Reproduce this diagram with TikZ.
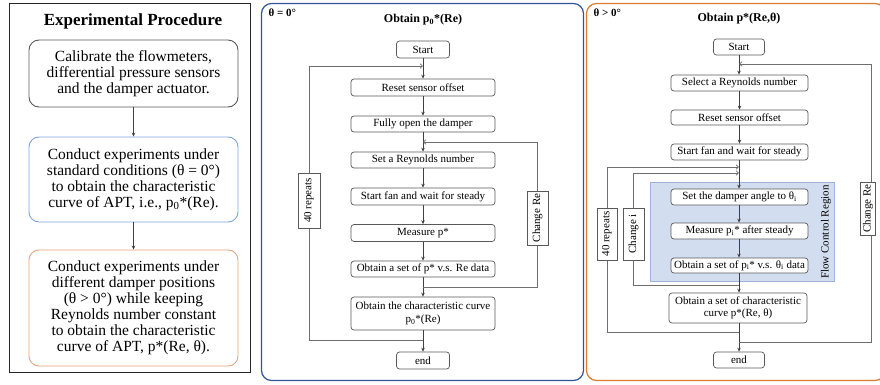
\documentclass[tikz,border=0pt]{standalone}
\usepackage{fontspec}
\setmainfont{Liberation Serif}
\usetikzlibrary{arrows.meta}
\definecolor{midblue}{HTML}{2F5597}
\definecolor{rorange}{HTML}{E07A2E}
\definecolor{lblue}{HTML}{7FA3E0}
\definecolor{lorange}{HTML}{E8A57A}
\definecolor{boxgray}{HTML}{595959}
\definecolor{linegray}{HTML}{404040}
\definecolor{loopgray}{HTML}{6E6E6E}
\definecolor{fcrfill}{HTML}{D3DDF0}
\definecolor{fcrdraw}{HTML}{9DB3DE}
\begin{document}
\begin{tikzpicture}[x=1pt,y=-1pt,
  fbox/.style={draw=boxgray, rounded corners=3pt, line width=0.7pt, fill=white,
    font=\fontsize{11}{12.5}\selectfont, inner sep=0pt, align=center},
  lbl/.style={draw=boxgray, line width=0.7pt, fill=white, rotate=90,
    font=\fontsize{11}{12}\selectfont, inner sep=0pt},
  bigbox/.style={rounded corners=10pt, line width=0.9pt, fill=white, inner sep=0pt,
    align=center, font=\fontsize{15.5}{16}\selectfont, minimum width=209pt},
  flow/.style={draw=linegray, line width=0.7pt, -{Stealth[length=4pt,width=3.5pt]}},
  loop/.style={draw=loopgray, line width=0.7pt, -{Straight Barb[length=2.5pt,width=4.5pt]}},
  loopl/.style={draw=loopgray, line width=0.7pt},
  frame/.style={rounded corners=10pt, line width=1.2pt}
]
\useasboundingbox (0,0) rectangle (880,385);

% ---------------- Left panel ----------------
\draw[line width=0.8pt, draw=black!85] (9,3) rectangle (250,372);
\node[font=\fontsize{17}{18}\selectfont\bfseries] (ltitle) at (133,21) {Experimental Procedure};
\node[bigbox, draw=boxgray, minimum height=67pt] (b1) at (133.5,73.5)
  {Calibrate the flowmeters,\\differential pressure sensors\\and the damper actuator.};
\node[bigbox, draw=lblue, minimum height=85pt] (b2) at (133.5,179.5)
  {Conduct experiments under\\standard conditions (θ = 0°)\\to obtain the characteristic\\curve of APT, i.e., p\textsubscript{0}*(Re).};
\node[bigbox, draw=lorange, minimum height=116pt] (b3) at (133.5,308)
  {Conduct experiments under\\different damper positions\\(θ > 0°) while keeping\\Reynolds number constant\\to obtain the characteristic\\curve of APT, p*(Re, θ).};
\draw[flow] (b1) -- (b2);
\draw[flow] (b2) -- (b3);

% ---------------- Middle panel ----------------
\draw[frame, draw=midblue] (261.5,3.5) rectangle (583.5,380.5);
\node[anchor=west, font=\fontsize{11}{12}\selectfont\bfseries] (mlab) at (265,13) {θ = 0°};
\node[font=\fontsize{12}{13}\selectfont\bfseries] (mtitle) at (423,20) {Obtain p\textsubscript{0}*(Re)};

\node[fbox, minimum width=53pt, minimum height=17pt] (mstart) at (423,49.5) {Start};
\node[fbox, minimum width=144pt, minimum height=17pt] (mreset) at (423,87.5) {Reset sensor offset};
\node[fbox, minimum width=144pt, minimum height=16pt] (mopen) at (423,124) {Fully open the damper};
\node[fbox, minimum width=144pt, minimum height=16pt] (mset) at (423,160) {Set a Reynolds number};
\node[fbox, minimum width=144pt, minimum height=17pt] (mfan) at (423,196.5) {Start fan and wait for steady};
\node[fbox, minimum width=144pt, minimum height=17pt] (mmeas) at (423,233) {Measure p*};
\node[fbox, minimum width=144pt, minimum height=16pt] (mdata) at (423,269) {Obtain a set of p* v.s. Re data};
\node[fbox, minimum width=144pt, minimum height=33pt] (mcurve) at (423,313.5) {Obtain the characteristic curve\\p\textsubscript{0}*(Re)};
\node[fbox, minimum width=53pt, minimum height=17pt] (mend) at (423,360.5) {end};

\draw[flow] (mstart) -- (mreset);
\draw[flow] (mreset) -- (mopen);
\draw[flow] (mopen) -- (mset);
\draw[flow] (mset) -- (mfan);
\draw[flow] (mfan) -- (mmeas);
\draw[flow] (mmeas) -- (mdata);
\draw[flow] (mdata) -- (mcurve);
\draw[flow] (mcurve) -- (mend);

\coordinate (mj1) at (423,340);
\coordinate (mj1a) at (309,340);
\coordinate (mj1b) at (309,66);
\coordinate (mj1c) at (423,66);
\draw[loop] (mj1) -- (mj1a) -- (mj1b) -- (mj1c);
\node[lbl, minimum width=55pt, minimum height=22pt] (mrep) at (309,200.5) {40 repeats};

\coordinate (mj2) at (423,287);
\coordinate (mj2a) at (537,287);
\coordinate (mj2b) at (537,142);
\coordinate (mj2c) at (423,142);
\draw[loop] (mj2) -- (mj2a) -- (mj2b) -- (mj2c);
\node[lbl, minimum width=54pt, minimum height=21pt] (mchg) at (537.5,218) {Change Re};

% ---------------- Right panel ----------------
\draw[frame, draw=rorange] (586.5,3.5) rectangle (885,380.5);
\node[anchor=west, font=\fontsize{11}{12}\selectfont\bfseries] (rlab) at (590,13) {θ > 0°};
\node[font=\fontsize{12}{13}\selectfont\bfseries] (rtitle) at (739,19) {Obtain p*(Re,θ)};

\draw[fill=fcrfill, draw=fcrdraw, line width=0.8pt] (650,182) rectangle (834,281);
\node[rotate=90, font=\fontsize{11}{12}\selectfont] (fcr) at (826,232) {Flow Control Region};

\node[fbox, minimum width=51pt, minimum height=16pt] (rstart) at (739,47) {Start};
\node[fbox, minimum width=137pt, minimum height=16pt] (rsel) at (739.5,83) {Select a Reynolds number};
\node[fbox, minimum width=137pt, minimum height=15pt] (rreset) at (739.5,117.5) {Reset sensor offset};
\node[fbox, minimum width=137pt, minimum height=16pt] (rfan) at (739.5,152) {Start fan and wait for steady};
\node[fbox, minimum width=137pt, minimum height=16pt] (rang) at (739.5,197) {Set the damper angle to θ\textsubscript{i}};
\node[fbox, minimum width=137pt, minimum height=16pt] (rmeas) at (739.5,231) {Measure p\textsubscript{i}* after steady};
\node[fbox, minimum width=137pt, minimum height=15pt] (rdata) at (739.5,265.5) {Obtain a set of p\textsubscript{i}* v.s. θ\textsubscript{i} data};
\node[fbox, minimum width=138pt, minimum height=30pt] (rcurve) at (738,308) {Obtain a set of characteristic\\curve p*(Re, θ)};
\node[fbox, minimum width=51pt, minimum height=16pt] (rend) at (739,360) {end};

\draw[flow] (rstart) -- (rstart |- rsel.north);
\draw[flow] (rsel) -- (rsel.south |- rreset.north);
\draw[flow] (rreset) -- (rreset.south |- rfan.north);
\draw[flow] (rfan.south -| rstart) -- (rang.north -| rstart);
\draw[flow] (rang.south -| rstart) -- (rmeas.north -| rstart);
\draw[flow] (rmeas.south -| rstart) -- (rdata.north -| rstart);
\draw[flow] (rdata.south -| rstart) -- (rcurve.north -| rstart);
\draw[flow] (rcurve.south -| rstart) -- (rend);

\coordinate (rj1) at (739,332);
\coordinate (rj1a) at (607,332);
\coordinate (rj1b) at (607,167);
\coordinate (rj1c) at (739,167);
\draw[loop] (rj1) -- (rj1a) -- (rj1b) -- (rj1c);
\node[lbl, minimum width=52pt, minimum height=20pt] (rrep) at (607,234) {40 repeats};

\coordinate (rj2) at (739,285);
\coordinate (rj2a) at (633,285);
\coordinate (rj2b) at (633,173);
\coordinate (rj2c) at (739,173);
\draw[loop] (rj2) -- (rj2a) -- (rj2b) -- (rj2c);
\node[lbl, minimum width=52pt, minimum height=21pt] (rchi) at (633.5,234) {Change i};

\coordinate (rj3) at (739,342);
\coordinate (rj3a) at (871,342);
\coordinate (rj3b) at (871,64);
\coordinate (rj3c) at (739,64);
\draw[loop] (rj3) -- (rj3a) -- (rj3b) -- (rj3c);
\node[lbl, minimum width=53pt, minimum height=15pt] (rchr) at (868,208.5) {Change Re};
\end{tikzpicture}
\end{document}
